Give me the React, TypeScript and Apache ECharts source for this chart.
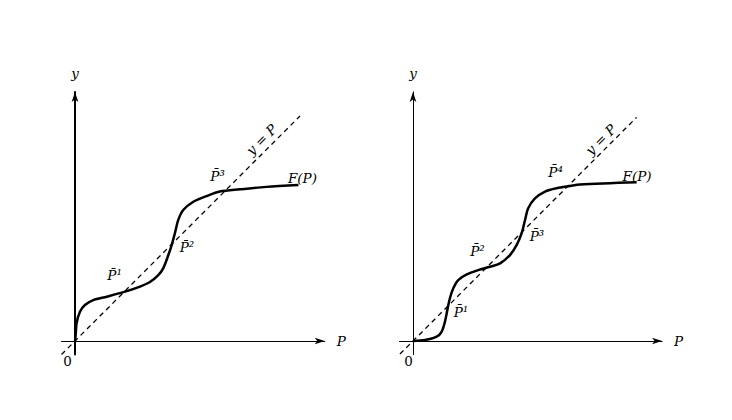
import React, { useEffect, useRef } from "react";
import * as echarts from "echarts";

// Left panel: F(P) with three fixed points
const leftP = [0, 0.03, 0.07, 0.22, 0.44, 0.81, 1.41, 2.15, 2.89, 3.33, 3.7, 3.92, 4.15, 4.3, 4.44, 4.59, 4.81, 5.26, 5.85, 6.44, 7.33, 8.5, 9.93];
const leftF = [0, 0.27, 0.79, 1.3, 1.6, 1.82, 1.97, 2.17, 2.42, 2.62, 2.93, 3.23, 3.82, 4.27, 4.79, 5.38, 5.82, 6.19, 6.44, 6.64, 6.74, 6.85, 6.93];
// Right panel: F(P) with four fixed points
const rightP = [0, 0.53, 1.05, 1.27, 1.42, 1.54, 1.64, 1.79, 2.01, 2.39, 2.9, 3.42, 3.87, 4.31, 4.61, 4.83, 4.98, 5.12, 5.42, 5.87, 6.39, 6.98, 7.42, 9.94];
const rightF = [0, 0.04, 0.19, 0.41, 0.86, 1.45, 1.9, 2.34, 2.71, 2.96, 3.15, 3.3, 3.45, 3.82, 4.27, 4.79, 5.38, 5.9, 6.34, 6.64, 6.79, 6.89, 6.96, 7.06];
// Diagonal y = P
const leftDiag = [-0.6, 10];
const rightDiag = [-0.58, 9.94];

// Labels: [P, y, text, rotate]
const leftLabels: [number, number, string, number][] = [
  [1.78, 2.89, "P\u0304\u00b9", 0],
  [5.0, 4.15, "P\u0304\u00b2", 0],
  [6.36, 7.33, "P\u0304\u00b3", 0],
  [10.13, 7.22, "F(P)", 0],
  [8.31, 8.93, "y = P", 45],
  [-0.31, -0.93, "0", 0],
];
const rightLabels: [number, number, string, number][] = [
  [2.15, 1.27, "P\u0304\u00b9", 0],
  [2.89, 4.0, "P\u0304\u00b2", 0],
  [5.53, 4.66, "P\u0304\u00b3", 0],
  [6.36, 7.51, "P\u0304\u2074", 0],
  [9.98, 7.33, "F(P)", 0],
  [8.36, 8.93, "y = P", 45],
  [-0.18, -0.93, "0", 0],
];

const U = 22.5; // px per unit
const xMin = -0.6;
const yMin = -0.6;
const xMaxL = 11.1;
const xMaxR = 11.07;
const yMax = 11.07;

const FONT = "DejaVu Serif";
const FS = 13.5;

export default function App() {
  const ref = useRef<HTMLDivElement>(null);
  useEffect(() => {
    if (!ref.current) return;
    const chart = echarts.init(ref.current, undefined, { renderer: "svg" });
    const height = (yMax - yMin) * U;
    const top = 354.5 - height;
    const mkGrid = (left: number, xMax: number) => ({
      left,
      top,
      width: (xMax - xMin) * U,
      height,
      containLabel: false,
    });
    const nameStyle = { fontFamily: FONT, fontStyle: "italic", fontSize: FS, color: "#000" };
    const mkX = (gi: number, xMax: number) => ({
      type: "value",
      gridIndex: gi,
      min: xMin,
      max: xMax,
      name: "P",
      nameLocation: "end",
      nameGap: 12,
      nameTextStyle: nameStyle,
      axisLine: {
        onZero: true,
        symbol: ["none", "arrow"],
        symbolSize: [5, 10],
        lineStyle: { color: "#000", width: 1 },
      },
      axisTick: { show: false },
      axisLabel: { show: false },
      splitLine: { show: false },
    });
    const mkY = (gi: number, w: number) => ({
      type: "value",
      gridIndex: gi,
      min: yMin,
      max: yMax,
      name: "y",
      nameLocation: "end",
      nameGap: 12,
      nameTextStyle: nameStyle,
      axisLine: {
        onZero: true,
        symbol: ["none", "arrow"],
        symbolSize: [5, 10],
        lineStyle: { color: "#000", width: w },
      },
      axisTick: { show: false },
      axisLabel: { show: false },
      splitLine: { show: false },
    });
    const curve = (gi: number, xs: number[], ys: number[]) => ({
      type: "line",
      xAxisIndex: gi,
      yAxisIndex: gi,
      data: xs.map((x, i) => [x, ys[i]]),
      smooth: 0.3,
      showSymbol: false,
      lineStyle: { color: "#000", width: 2.5 },
      z: 3,
    });
    const diag = (gi: number, d: number[]) => ({
      type: "line",
      xAxisIndex: gi,
      yAxisIndex: gi,
      data: d.map((v) => [v, v]),
      showSymbol: false,
      lineStyle: { color: "#000", width: 1.3, type: [5, 4] },
      z: 2,
    });
    const labels = (gi: number, ls: [number, number, string, number][]) => ({
      type: "scatter",
      xAxisIndex: gi,
      yAxisIndex: gi,
      clip: false,
      symbol: "circle",
      symbolSize: 1,
      itemStyle: { color: "rgba(0,0,0,0)" },
      data: ls.map((l) => ({
        value: [l[0], l[1]],
        label: {
          show: true,
          position: [0, 0],
          align: "center",
          verticalAlign: "middle",
          formatter: l[2],
          rotate: l[3],
          fontFamily: FONT,
          fontStyle: l[2] === "0" ? "normal" : "italic",
          fontSize: FS,
          color: "#000",
          opacity: 1,
        },
      })),
      z: 4,
    });
    chart.setOption({
      animation: false,
      backgroundColor: "#fff",
      grid: [mkGrid(75 + xMin * U, xMaxL), mkGrid(413 + xMin * U, xMaxR)],
      xAxis: [mkX(0, xMaxL), mkX(1, xMaxR)],
      yAxis: [mkY(0, 2), mkY(1, 1)],
      series: [
        diag(0, leftDiag),
        curve(0, leftP, leftF),
        labels(0, leftLabels),
        diag(1, rightDiag),
        curve(1, rightP, rightF),
        labels(1, rightLabels),
      ],
    });
    return () => chart.dispose();
  }, []);
  return (
    <div
      ref={ref}
      style={{ position: "fixed", left: 0, top: 0, width: 732, height: 420, background: "#fff" }}
    />
  );
}
